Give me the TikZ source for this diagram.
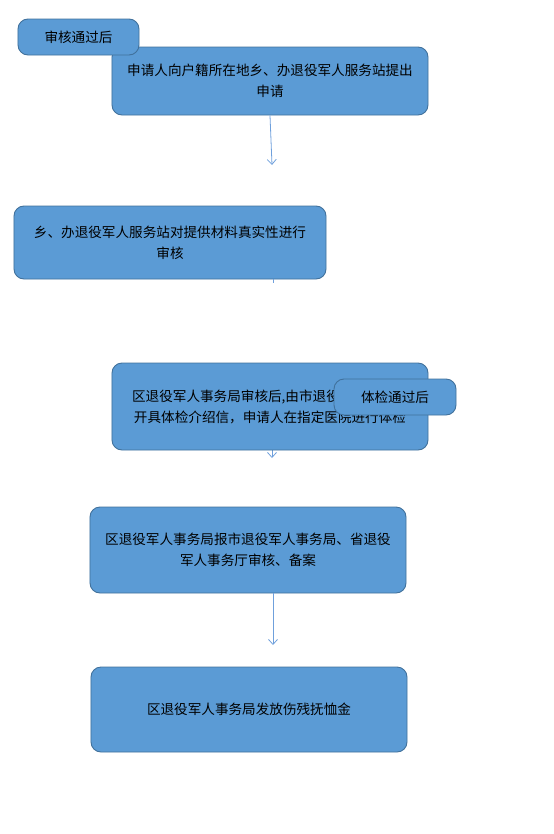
\documentclass[tikz,border=0pt]{standalone}
\usepackage{fontspec}
\setmainfont{Noto Sans CJK SC}
\usetikzlibrary{arrows.meta}
\definecolor{boxfill}{HTML}{5B9BD5}
\definecolor{boxline}{HTML}{41719C}
\definecolor{arrowc}{HTML}{6FA0DC}
\begin{document}
\begin{tikzpicture}[x=1bp,y=-1bp,
  box/.style={draw=boxline, line width=0.9bp, fill=boxfill, rounded corners=10bp,
    inner sep=0pt, align=center, text=black,
    font=\fontsize{13.6bp}{21bp}\selectfont},
  conn/.style={draw=arrowc, line width=0.8bp, -{Straight Barb[length=5bp,width=9bp]}}]
\useasboundingbox (0,0) rectangle (554,834);
% box B
\node[box, minimum width=316bp, minimum height=68bp] (b) at (270,81) {申请人向户籍所在地乡、办退役军人服务站提出\\申请};
% box A
\node[box, minimum width=121bp, minimum height=36bp] (a) at (78.5,37) {审核通过后};
\coordinate (t1) at (272,165);
\draw[conn] (b.south) -- (t1);
% box C
\node[box, minimum width=312bp, minimum height=73bp] (c) at (170,242.5) {乡、办退役军人服务站对提供材料真实性进行\\审核};
\coordinate (s2) at (273,283);
\draw[draw=arrowc, line width=0.8bp] (c.south -| s2) -- (s2);
\coordinate (t2) at (272,458);
\coordinate (u2) at (272,420);
\draw[conn] (u2) -- (t2);
% box D
\node[box, minimum width=316bp, minimum height=87bp] (d) at (270,406.5) {区退役军人事务局审核后,由市退役军人事务局\\开具体检介绍信，申请人在指定医院进行体检};
% box E
\node[box, minimum width=122bp, minimum height=36bp] (e) at (395,397) {体检通过后};
% box F
\node[box, minimum width=316bp, minimum height=86bp] (f) at (248,550) {区退役军人事务局报市退役军人事务局、省退役\\军人事务厅审核、备案};
\coordinate (t3) at (273,645);
\draw[conn] (f.south -| t3) -- (t3);
% box G
\node[box, minimum width=316bp, minimum height=85bp] (g) at (249,709.5) {区退役军人事务局发放伤残抚恤金};
\end{tikzpicture}
\end{document}
